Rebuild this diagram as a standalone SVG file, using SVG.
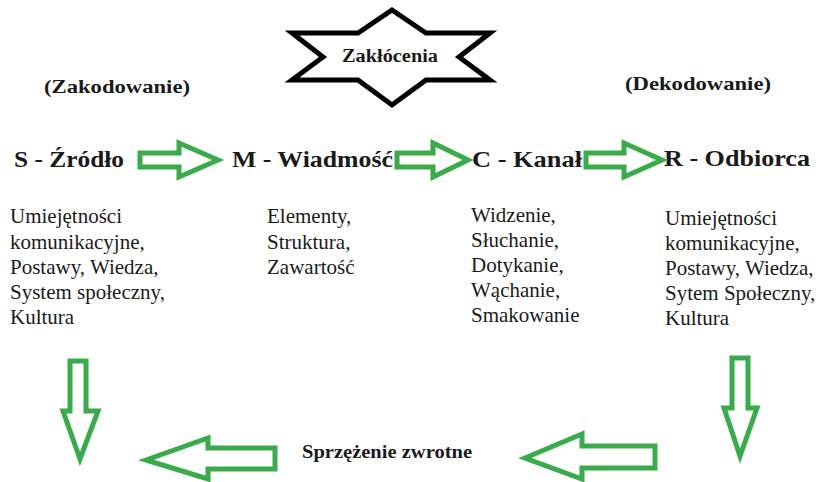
<svg xmlns="http://www.w3.org/2000/svg" width="828" height="482" viewBox="0 0 828 482" font-family="'Liberation Serif', 'DejaVu Serif', 'Times New Roman', serif">
<style>
text{font-family:'Liberation Serif','DejaVu Serif','Times New Roman',serif;fill:#1a1a1a}
.b{font-weight:bold}
.h{font-size:23px;font-weight:bold}
.body{font-size:21px}
.arr{fill:#fff;stroke:#3aab4a;stroke-width:5;stroke-linejoin:miter}
.star{fill:#fff;stroke:#000;stroke-width:5;stroke-linejoin:miter}
</style>
<rect width="828" height="482" fill="#fff"/>
<g id="zaklocenia">
<polygon class="star" points="392,10 426,33 490,33 459,57 490,80 426,80 392,105 358,80 292,80 323,57 292,33 358,33"/>
<text class="b" x="390" y="62" font-size="18" text-anchor="middle" textLength="96" lengthAdjust="spacingAndGlyphs">Zakłócenia</text>
</g>
<g id="labels">
<text class="b" x="44" y="93" font-size="19" textLength="146" lengthAdjust="spacingAndGlyphs">(Zakodowanie)</text>
<text class="b" x="625" y="90" font-size="19" textLength="146" lengthAdjust="spacingAndGlyphs">(Dekodowanie)</text>
</g>
<g id="zrodlo">
<text class="h" x="14" y="167" textLength="110" lengthAdjust="spacingAndGlyphs">S - Źródło</text>
<text class="body"><tspan x="10" y="223">Umiejętności</tspan><tspan x="10" y="249">komunikacyjne,</tspan><tspan x="10" y="274">Postawy, Wiedza,</tspan><tspan x="10" y="299">System społeczny,</tspan><tspan x="10" y="324">Kultura</tspan></text>
</g>
<g id="wiadomosc">
<text class="h" x="232" y="167" textLength="161" lengthAdjust="spacingAndGlyphs">M - Wiadmość</text>
<text class="body"><tspan x="267" y="223">Elementy,</tspan><tspan x="267" y="249">Struktura,</tspan><tspan x="267" y="274">Zawartość</tspan></text>
</g>
<g id="kanal">
<text class="h" x="472" y="167" textLength="110" lengthAdjust="spacingAndGlyphs">C - Kanał</text>
<text class="body"><tspan x="471" y="222">Widzenie,</tspan><tspan x="471" y="247">Słuchanie,</tspan><tspan x="471" y="272">Dotykanie,</tspan><tspan x="471" y="297">Wąchanie,</tspan><tspan x="471" y="322">Smakowanie</tspan></text>
</g>
<g id="odbiorca">
<text class="h" x="664" y="166" textLength="146" lengthAdjust="spacingAndGlyphs">R - Odbiorca</text>
<text class="body"><tspan x="665" y="225">Umiejętności</tspan><tspan x="665" y="250">komunikacyjne,</tspan><tspan x="665" y="275">Postawy, Wiedza,</tspan><tspan x="665" y="300">Sytem Społeczny,</tspan><tspan x="665" y="325">Kultura</tspan></text>
</g>
<g id="sprzezenie">
<text class="b" x="302" y="458" font-size="18" textLength="170" lengthAdjust="spacingAndGlyphs">Sprzężenie zwrotne</text>
</g>
<g id="connectors">
<polygon class="arr" points="140,153 179,153 179,143 218,160 179,177 179,167 140,167"/>
<polygon class="arr" points="397,153 433,153 433,143 468,160 433,177 433,167 397,167"/>
<polygon class="arr" points="586,153 624,153 624,143 662,160 624,177 624,167 586,167"/>
<polygon class="arr" points="70,361 86,361 86,411 98,411 80,459 63,411 70,411"/>
<polygon class="arr" points="732,358 748,358 748,408 757,408 740,456 724,408 732,408"/>
<polygon class="arr" points="275,448 275,469 208,469 208,479 146,460 208,438 208,448"/>
<polygon class="arr" points="655,446 655,468 582,468 582,479 525,458 582,434 582,446"/>
</g>
</svg>
